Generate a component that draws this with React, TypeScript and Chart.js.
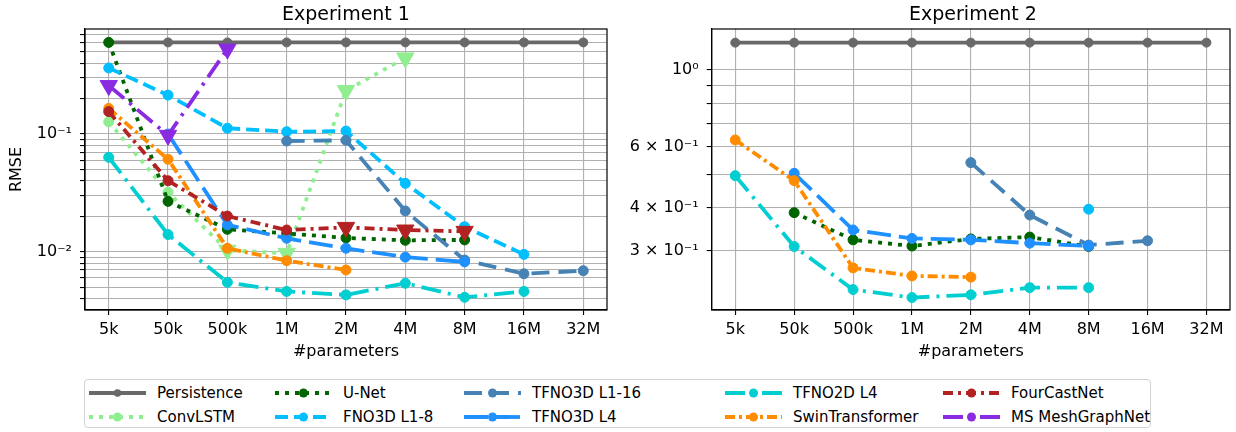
import React, { useEffect, useRef } from 'react';
import { Chart, registerables } from 'chart.js';

Chart.register(...registerables);

// ---------- categories & ticks ----------
const categories = ['5k', '50k', '500k', '1M', '2M', '4M', '8M', '16M', '32M'];

const exp1YTickValues = [0.004, 0.005, 0.006, 0.007, 0.008, 0.009, 0.01, 0.02, 0.03, 0.04, 0.05, 0.06, 0.07, 0.08, 0.09, 0.1, 0.2, 0.3, 0.4, 0.5, 0.6, 0.7];
const exp1YTickLabels = ['', '', '', '', '', '', '10⁻²', '', '', '', '', '', '', '', '', '10⁻¹', '', '', '', '', '', ''];

const exp2YTickValues = [0.3, 0.4, 0.5, 0.6, 0.7, 0.8, 0.9, 1.0];
const exp2YTickLabels = ['3 × 10⁻¹', '4 × 10⁻¹', '', '6 × 10⁻¹', '', '', '', '10⁰'];

// ---------- Experiment 1 data ----------
const exp1Persistence = [0.6, 0.6, 0.6, 0.6, 0.6, 0.6, 0.6, 0.6, 0.6];
const exp1ConvLSTM = [0.127, 0.032, 0.0103, 0.0097, 0.234, 0.443, null, null, null];
const exp1ConvLSTMMarkers = ['o', 'o', 'v', 'v', 'v', 'v', 'o', 'o', 'o'];
const exp1UNet = [0.6, 0.0268, 0.0155, 0.0143, 0.0131, 0.0125, 0.0126, null, null];
const exp1FNO3D = [0.364, 0.214, 0.112, 0.1046, 0.106, 0.0381, 0.0163, 0.0095, null];
const exp1TFNO3DL116 = [null, null, null, 0.0872, 0.0884, 0.0222, 0.0085, 0.0065, 0.0069];
const exp1TFNO3DL4 = [null, 0.1, 0.0169, 0.013, 0.0107, 0.009, 0.0082, null, null];
const exp1TFNO2DL4 = [0.0634, 0.014, 0.0055, 0.0046, 0.0043, 0.0054, 0.0041, 0.0046, null];
const exp1Swin = [0.165, 0.061, 0.0107, 0.0084, 0.007, null, null, null, null];
const exp1FourCastNet = [0.155, 0.0401, 0.0201, 0.0153, 0.0161, 0.0153, 0.0149, null, null];
const exp1FourCastNetMarkers = ['o', 'o', 'o', 'o', 'v', 'v', 'v', 'o', 'o'];
const exp1MeshGraphNet = [0.258, 0.0975, 0.527, null, null, null, null, null, null];
const exp1MeshGraphNetMarkers = ['v', 'v', 'v', 'v', 'v', 'v', 'v', 'v', 'v'];

// ---------- Experiment 2 data ----------
const exp2Persistence = [1.2, 1.2, 1.2, 1.2, 1.2, 1.2, 1.2, 1.2, 1.2];
const exp2UNet = [null, 0.387, 0.323, 0.31, 0.325, 0.329, 0.309, null, null];
const exp2FNO3D = [null, null, null, null, null, null, 0.396, null, null];
const exp2TFNO3DL116 = [null, null, null, null, 0.54, 0.381, 0.312, 0.321, null];
const exp2TFNO3DL4 = [null, 0.503, 0.345, 0.326, 0.323, 0.316, 0.31, null, null];
const exp2TFNO2DL4 = [0.495, 0.309, 0.232, 0.22, 0.224, 0.235, 0.235, null, null];
const exp2Swin = [0.628, 0.479, 0.268, 0.254, 0.252, null, null, null, null];

// ---------- styles ----------
type Style = { color: string; dash: number[]; radius?: number };
const seriesStyles: Record<string, Style> = {
  'Persistence': { color: '#696969', dash: [], radius: 4.5 },
  'ConvLSTM': { color: '#90EE90', dash: [4, 6] },
  'U-Net': { color: '#006400', dash: [4, 6] },
  'FNO3D L1-8': { color: '#00BFFF', dash: [13, 6] },
  'TFNO3D L1-16': { color: '#4682B4', dash: [18, 9] },
  'TFNO3D L4': { color: '#1E90FF', dash: [24, 8] },
  'TFNO2D L4': { color: '#00CED1', dash: [20, 7, 3, 7] },
  'SwinTransformer': { color: '#FF8C00', dash: [10, 4, 3, 4] },
  'FourCastNet': { color: '#B22222', dash: [10, 5, 3, 5] },
  'MS MeshGraphNet': { color: '#8A2BE2', dash: [20, 7, 3, 7] },
};

const FONT = 'DejaVu Sans';
Chart.defaults.font.family = FONT;
Chart.defaults.color = '#000';

type Series = [string, (number | null)[], string[]?];

function buildDatasets(series: Series[]) {
  const n = series.length;
  return series.map(([name, values, markers], idx) => {
    const st = seriesStyles[name];
    const pts: { x: number; y: number }[] = [];
    const mk: string[] = [];
    values.forEach((v, i) => {
      if (v !== null && v !== undefined) {
        pts.push({ x: i, y: v });
        mk.push(markers ? markers[i] : 'o');
      }
    });
    const baseR = st.radius ?? 5;
    return {
      label: name,
      data: pts,
      order: n - idx,
      borderColor: st.color,
      backgroundColor: st.color,
      borderWidth: 3.8,
      borderDash: st.dash,
      tension: 0,
      pointStyle: mk.map((m) => (m === 'v' ? 'triangle' : 'circle')),
      pointRotation: mk.map((m) => (m === 'v' ? 180 : 0)),
      pointRadius: mk.map((m) => (m === 'v' ? 10 : baseR)),
      pointHoverRadius: mk.map((m) => (m === 'v' ? 10 : baseR)),
      pointBorderWidth: 1,
      pointBorderColor: st.color,
      pointBackgroundColor: st.color,
    };
  });
}

const framePlugin = {
  id: 'frame',
  afterDraw(chart: any) {
    const { ctx, chartArea: a } = chart;
    ctx.save();
    ctx.strokeStyle = '#000';
    ctx.lineWidth = 1.2;
    ctx.setLineDash([]);
    ctx.strokeRect(a.left, a.top, a.right - a.left, a.bottom - a.top);
    ctx.restore();
  },
};

const CANVAS_H = 370;

function makeConfig(series: Series[], yMin: number, yMax: number, yTicks: number[], yLabels: string[], yAxisWidth: number, padRight: number, showYTitle: boolean) {
  return {
    type: 'line',
    data: { datasets: buildDatasets(series) },
    plugins: [framePlugin],
    options: {
      animation: false,
      responsive: false,
      devicePixelRatio: 1,
      layout: { padding: { left: 0, top: 29, right: padRight, bottom: 0 } },
      plugins: { legend: { display: false }, tooltip: { enabled: false }, title: { display: false } },
      scales: {
        x: {
          type: 'linear',
          min: -0.4,
          max: 8.4,
          afterBuildTicks: (s: any) => {
            s.ticks = categories.map((_, i) => ({ value: i }));
          },
          afterFit: (s: any) => {
            s.height = CANVAS_H - 310;
          },
          ticks: {
            autoSkip: false,
            maxRotation: 0,
            padding: 5,
            color: '#000',
            font: { family: FONT, size: 16 },
            callback: (_v: any, i: number) => categories[i],
          },
          grid: { color: '#b0b0b0', lineWidth: 1.1, tickLength: 5, tickColor: '#000', tickWidth: 1.1 },
          border: { color: '#000', width: 1.2 },
          title: {
            display: true,
            text: '#parameters',
            color: '#000',
            font: { family: FONT, size: 16 },
            padding: { top: 0, bottom: 8.4 },
          },
        },
        y: {
          type: 'logarithmic',
          min: yMin,
          max: yMax,
          afterBuildTicks: (s: any) => {
            s.ticks = yTicks.map((v) => ({ value: v }));
          },
          afterFit: (s: any) => {
            s.width = yAxisWidth;
          },
          ticks: {
            autoSkip: false,
            padding: 8,
            color: '#000',
            font: { family: FONT, size: 16 },
            callback: (_v: any, i: number) => yLabels[i],
          },
          grid: { color: '#b0b0b0', lineWidth: 1.1, tickLength: 5, tickColor: '#000', tickWidth: 1.1 },
          border: { color: '#000', width: 1.2 },
          title: {
            display: showYTitle,
            text: 'RMSE',
            color: '#000',
            font: { family: FONT, size: 16 },
            padding: { top: 7.4, bottom: 0 },
          },
        },
      },
    },
  } as any;
}

function ChartCanvas({ makeCfg, left, width }: { makeCfg: () => any; left: number; width: number }) {
  const ref = useRef<HTMLCanvasElement>(null);
  useEffect(() => {
    const chart = new Chart(ref.current as HTMLCanvasElement, makeCfg());
    return () => chart.destroy();
  }, []);
  return (
    <canvas
      ref={ref}
      width={width}
      height={CANVAS_H}
      style={{ position: 'absolute', left, top: 0, width, height: CANVAS_H }}
    />
  );
}

const exp1Series: Series[] = [
  ['Persistence', exp1Persistence],
  ['ConvLSTM', exp1ConvLSTM, exp1ConvLSTMMarkers],
  ['U-Net', exp1UNet],
  ['FNO3D L1-8', exp1FNO3D],
  ['TFNO3D L1-16', exp1TFNO3DL116],
  ['TFNO3D L4', exp1TFNO3DL4],
  ['TFNO2D L4', exp1TFNO2DL4],
  ['SwinTransformer', exp1Swin],
  ['FourCastNet', exp1FourCastNet, exp1FourCastNetMarkers],
  ['MS MeshGraphNet', exp1MeshGraphNet, exp1MeshGraphNetMarkers],
];

const exp2Series: Series[] = [
  ['Persistence', exp2Persistence],
  ['U-Net', exp2UNet],
  ['FNO3D L1-8', exp2FNO3D],
  ['TFNO3D L1-16', exp2TFNO3DL116],
  ['TFNO3D L4', exp2TFNO3DL4],
  ['TFNO2D L4', exp2TFNO2DL4],
  ['SwinTransformer', exp2Swin],
];

const legendColumns = [
  ['Persistence', 'ConvLSTM'],
  ['U-Net', 'FNO3D L1-8'],
  ['TFNO3D L1-16', 'TFNO3D L4'],
  ['TFNO2D L4', 'SwinTransformer'],
  ['FourCastNet', 'MS MeshGraphNet'],
];
const legendColX = [89, 275, 464, 725, 943];
const legendRowY = [393.3, 417.3];

function LegendHandle({ name }: { name: string }) {
  const st = seriesStyles[name];
  const r = name === 'Persistence' ? 3.8 : 4.5;
  return (
    <svg width={57} height={20} style={{ position: 'absolute', left: 0, top: -10 }}>
      <line x1={0} y1={10} x2={57} y2={10} stroke={st.color} strokeWidth={3.8} strokeDasharray={st.dash.length ? st.dash.join(' ') : undefined} />
      <circle cx={28.5} cy={10} r={r} fill={st.color} />
    </svg>
  );
}

function Legend() {
  const items: JSX.Element[] = [];
  legendColumns.forEach((col, ci) => {
    col.forEach((name, ri) => {
      items.push(
        <div key={name} style={{ position: 'absolute', left: legendColX[ci], top: legendRowY[ri], height: 0 }}>
          <LegendHandle name={name} />
          <span
            style={{
              position: 'absolute',
              left: 68,
              top: 0,
              transform: 'translateY(-50%)',
              whiteSpace: 'nowrap',
              fontFamily: FONT,
              fontSize: 15,
              lineHeight: '18px',
              color: '#000',
            }}
          >
            {name}
          </span>
        </div>
      );
    });
  });
  return (
    <>
      <div
        style={{
          position: 'absolute',
          left: 84,
          top: 379,
          width: 1067,
          height: 49,
          boxSizing: 'border-box',
          border: '1px solid #d3d3d3',
          borderRadius: 4,
          background: '#fff',
        }}
      />
      {items}
    </>
  );
}

function Title({ text, cx }: { text: string; cx: number }) {
  return (
    <div
      style={{
        position: 'absolute',
        left: cx,
        top: 13,
        transform: 'translate(-50%, -50%)',
        whiteSpace: 'nowrap',
        fontFamily: FONT,
        fontSize: 19,
        lineHeight: '22px',
        color: '#000',
      }}
    >
      {text}
    </div>
  );
}

export default function App() {
  return (
    <div style={{ position: 'absolute', left: 0, top: 0, width: 1236, height: 432, background: '#fff', overflow: 'hidden' }}>
      <ChartCanvas
        left={0}
        width={620}
        makeCfg={() => makeConfig(exp1Series, 0.0032, 0.78, exp1YTickValues, exp1YTickLabels, 85, 13, true)}
      />
      <ChartCanvas
        left={620}
        width={616}
        makeCfg={() => makeConfig(exp2Series, 0.2025, 1.314, exp2YTickValues, exp2YTickLabels, 91.7, 2, false)}
      />
      <Title text="Experiment 1" cx={346} />
      <Title text="Experiment 2" cx={973} />
      <Legend />
    </div>
  );
}
